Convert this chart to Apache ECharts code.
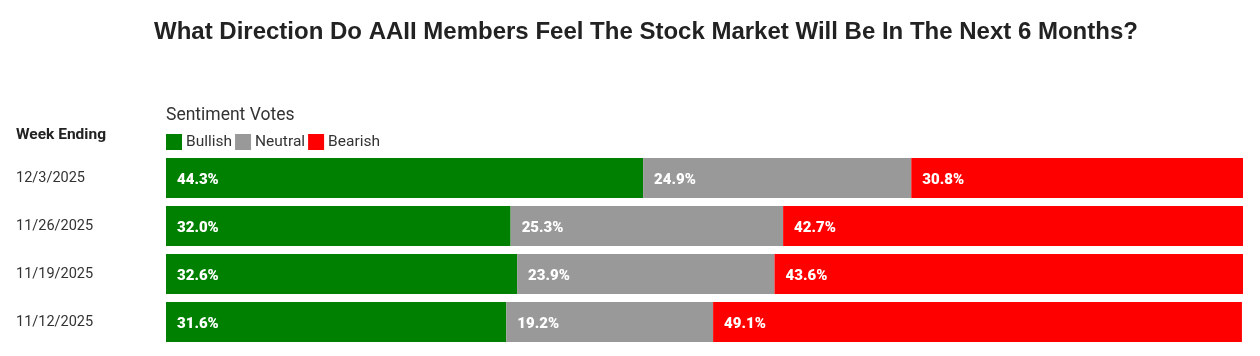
<!DOCTYPE html>
<html><head><meta charset="utf-8">
<script src="https://cdn.jsdelivr.net/npm/echarts@6/dist/echarts.min.js"></script>
<style>html,body{margin:0;padding:0;background:#fff}#c{width:1260px;height:356px}</style>
</head><body><div id="c"></div>
<script>
const weeks = ['12/3/2025','11/26/2025','11/19/2025','11/12/2025'];
const bullish = [44.3, 32.0, 32.6, 31.6];
const neutral = [24.9, 25.3, 23.9, 19.2];
const bearish = [30.8, 42.7, 43.6, 49.1];
const seriesNames = ['Bullish','Neutral','Bearish'];
const colors = ['#008000','#999999','#ff0000'];

const chart = echarts.init(document.getElementById('c'));
const lbl = {show:true, position:'insideLeft', distance:11, offset:[0,2], color:'#fff', fontWeight:900, fontSize:15, fontFamily:'Roboto', formatter: p => p.value.toFixed(1)+'%'};
chart.setOption({
  animation:false,
  title:[
    {text:'What Direction Do AAII Members Feel The Stock Market Will Be In The Next 6 Months?', left:154, top:20, padding:0, textStyle:{fontFamily:'Liberation Sans', fontWeight:'bold', fontSize:24, color:'#222'}},
    {text:'Sentiment Votes', left:166, top:107, padding:0, textStyle:{fontFamily:'Roboto', fontWeight:'normal', fontSize:17.5, color:'#333'}},
    {text:'Week Ending', left:16, top:127, padding:0, textStyle:{fontFamily:'Roboto', fontWeight:'bold', fontSize:15.5, color:'#222'}}
  ],
  legend:{left:166, top:134, padding:0, itemWidth:16, itemHeight:16, itemGap:3, icon:'rect', textStyle:{fontFamily:'Roboto', fontSize:15.5, color:'#333', padding:[0,0,0,-1]}, data:seriesNames},
  grid:{left:166, right:17, top:154, bottom:10},
  xAxis:{type:'value', min:0, max:100, show:false},
  yAxis:{type:'category', data:weeks, inverse:true, axisLine:{show:false}, axisTick:{show:false},
    axisLabel:{align:'left', margin:150, fontFamily:'Roboto', fontSize:14.5, color:'#333', padding:[2,0,0,0]}},
  series:[bullish, neutral, bearish].map((d,i)=>({
    name:seriesNames[i], type:'bar', stack:'s', data:d, barWidth:40, itemStyle:{color:colors[i]}, label:lbl
  }))
});
</script></body></html>
